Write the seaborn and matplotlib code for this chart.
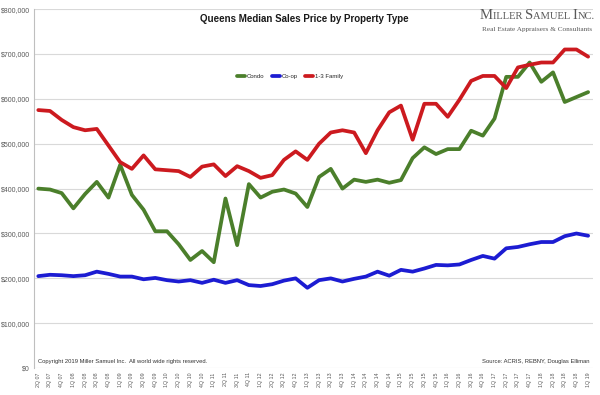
import pandas as pd
import matplotlib
matplotlib.use("Agg")
import matplotlib.pyplot as plt
import seaborn as sns

# quarterly labels 2Q07 .. 1Q19
quarters = ["2Q 07", "3Q 07", "4Q 07",
            "1Q 08", "2Q 08", "3Q 08", "4Q 08",
            "1Q 09", "2Q 09", "3Q 09", "4Q 09",
            "1Q 10", "2Q 10", "3Q 10", "4Q 10",
            "1Q 11", "2Q 11", "3Q 11", "4Q 11",
            "1Q 12", "2Q 12", "3Q 12", "4Q 12",
            "1Q 13", "2Q 13", "3Q 13", "4Q 13",
            "1Q 14", "2Q 14", "3Q 14", "4Q 14",
            "1Q 15", "2Q 15", "3Q 15", "4Q 15",
            "1Q 16", "2Q 16", "3Q 16", "4Q 16",
            "1Q 17", "2Q 17", "3Q 17", "4Q 17",
            "1Q 18", "2Q 18", "3Q 18", "4Q 18",
            "1Q 19"]

# median sales price, in $ thousands
condo = [400, 398, 390, 356, 388, 415, 380, 453, 386, 353, 305, 305,
         276, 241, 261, 236, 378, 274, 410, 380, 393, 398, 389, 359,
         426, 444, 400, 420, 415, 420, 413, 419, 468, 492, 477, 488,
         488, 529, 518, 556, 649, 649, 681, 638, 659, 593, 604, 615]
coop = [205, 208, 207, 205, 207, 215, 210, 204, 204, 198, 201, 196,
        193, 196, 190, 197, 190, 196, 185, 183, 187, 195, 200, 179,
        196, 200, 193, 199, 204, 215, 206, 219, 215, 222, 230, 229,
        231, 241, 250, 244, 267, 270, 276, 281, 281, 294, 300, 295]
family = [575, 573, 553, 537, 530, 533, 496, 459, 444, 474, 443, 441,
          439, 426, 449, 454, 428, 450, 439, 424, 430, 464, 483, 464,
          500, 525, 530, 525, 479, 530, 570, 585, 509, 589, 589, 560,
          598, 640, 651, 651, 624, 670, 676, 681, 681, 710, 710, 694]

df = pd.DataFrame({"pos": range(len(quarters)),
                   "Condo": condo, "Co-op": coop, "1-3 Family": family})
df_long = df.melt(id_vars="pos", var_name="type", value_name="price")
df_long["price"] = df_long["price"] * 1000

sns.set_style("white")
plt.rcParams['font.family'] = ['Liberation Sans', 'DejaVu Sans']

fig = plt.figure(figsize=(6, 3.95), dpi=100)
ax = fig.add_axes([0.057, 0.068, 0.931, 0.909])

colores = {"Condo": "#4b7f2b", "Co-op": "#1c1cd2", "1-3 Family": "#cc1a1f"}
sns.lineplot(data=df_long, x="pos", y="price", hue="type", palette=colores,
             linewidth=2.7, ax=ax)

ax.set_ylim(0, 800000)
ax.set_yticks(range(0, 800001, 100000))
ax.set_yticklabels(["${:,.0f}".format(v) for v in range(0, 800001, 100000)])
ax.set_xlim(-0.35, 47.4)
ax.set_xticks(range(len(quarters)))
ax.set_xticklabels(quarters, rotation=90)
ax.set_xlabel("")
ax.set_ylabel("")

ax.yaxis.grid(True, color="#d9d9d9", linewidth=0.8)
ax.set_axisbelow(True)
for s in ["top", "right", "bottom"]:
    ax.spines[s].set_visible(False)
ax.spines["left"].set_color("#bfbfbf")
ax.spines["left"].set_linewidth(0.8)

ax.tick_params(axis="x", length=0, pad=3, labelsize=3.8, colors="#595959")
ax.tick_params(axis="y", length=0, pad=3, labelsize=5, colors="#595959")

ax.legend(loc="center", bbox_to_anchor=(0.458, 0.813), ncol=3, frameon=False,
          fontsize=4.3, handlelength=1.4, handletextpad=0.3, columnspacing=1.2)

fig.text(0.508, 0.952, "Queens Median Sales Price by Property Type",
         ha="center", va="center", fontsize=7, weight="bold", color="#1a1a1a")

# logo in small caps, built piece by piece
renderer = fig.canvas.get_renderer()
piezas = [("M", 10.5), ("ILLER ", 7.6), ("S", 10.5), ("AMUEL ", 7.6), ("I", 10.5), ("NC.", 7.6)]
x = 480 / 600
for txt, size in piezas:
    t = fig.text(x, 0.952, txt, ha="left", va="baseline", family="Liberation Serif",
                 fontsize=size, color="#595959")
    bb = t.get_window_extent(renderer)
    x += bb.width / fig.bbox.width
fig.text(0.987, 0.925, "Real Estate Appraisers & Consultants", ha="right",
         va="center", family="Liberation Serif", fontsize=5.2, color="#595959")

fig.text(0.063, 0.084, "Copyright 2019 Miller Samuel Inc.  All world wide rights reserved.",
         ha="left", va="center", fontsize=4.2, color="#333333")
fig.text(0.983, 0.084, "Source: ACRIS, REBNY, Douglas Elliman",
         ha="right", va="center", fontsize=4.2, color="#333333")

fig.savefig("out.png", dpi=100)
